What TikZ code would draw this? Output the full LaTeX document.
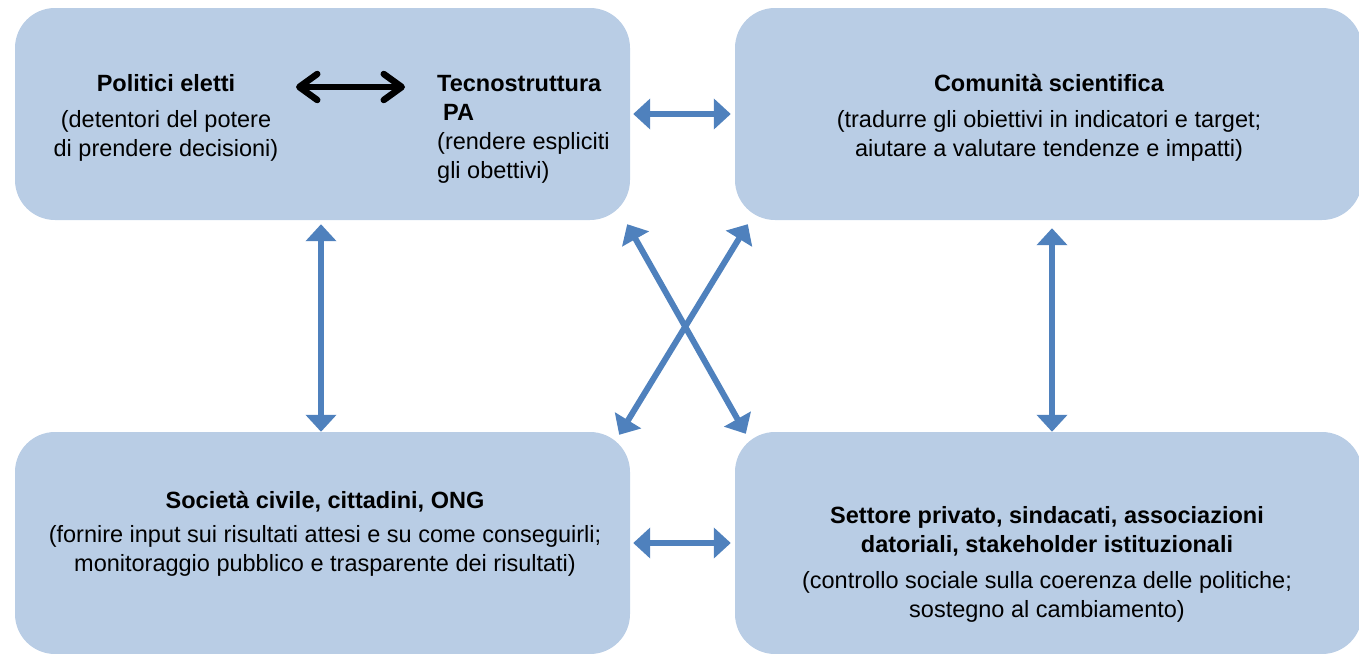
\documentclass[tikz,border=0pt]{standalone}
\usepackage{fontspec}
\setmainfont{Liberation Sans}
\usetikzlibrary{arrows.meta}
\definecolor{boxfill}{HTML}{B9CDE5}
\definecolor{arrowblue}{HTML}{4F81BD}
\begin{document}
\begin{tikzpicture}[x=1pt,y=-1pt,
  box/.style={fill=boxfill, rounded corners=40pt, inner sep=0pt},
  txt/.style={font=\fontsize{23.5}{29}\selectfont, inner sep=0pt, anchor=north},
  blu/.style={draw=arrowblue, line width=6pt, arrows={Triangle[length=17pt,width=30pt]-Triangle[length=17pt,width=30pt]}},
  blk/.style={draw=black, line width=6.5pt, line cap=round, arrows={Straight Barb[length=18pt,width=26pt,round]-Straight Barb[length=18pt,width=26pt,round]}}]
\useasboundingbox (0,0) rectangle (1359,653);
% boxes
\node[box, minimum width=615pt, minimum height=212pt] (TL) at (322.5,114) {};
\node[box, minimum width=627pt, minimum height=212pt] (TR) at (1048.5,114) {};
\node[box, minimum width=615pt, minimum height=222pt] (BL) at (322.5,543) {};
\node[box, minimum width=627pt, minimum height=222pt] (BR) at (1048.5,543) {};
% texts
\node[txt, align=center] (pol) at (166,70.7) {\textbf{Politici eletti}\strut\\[7pt](detentori del potere\strut\\di prendere decisioni)\strut};
\node[txt, align=left, anchor=north west] (tec) at (437,70.7) {\textbf{Tecnostruttura}\strut\\\hspace*{6pt}\textbf{PA}\strut\\(rendere espliciti\strut\\gli obettivi)\strut};
\node[txt, align=center] (com) at (1049,70.7) {\textbf{Comunità scientifica}\strut\\[7pt](tradurre gli obiettivi in indicatori e target;\strut\\aiutare a valutare tendenze e impatti)\strut};
\node[txt, align=center] (soc) at (325,487.7) {\textbf{Società civile, cittadini, ONG}\strut\\[5pt](fornire input sui risultati attesi e su come conseguirli;\strut\\monitoraggio pubblico e trasparente dei risultati)\strut};
\node[txt, align=center] (set) at (1047,502.7) {\textbf{Settore privato, sindacati, associazioni}\strut\\\textbf{datoriali, stakeholder istituzionali}\strut\\[7pt](controllo sociale sulla coerenza delle politiche;\strut\\sostegno al cambiamento)\strut};
% arrows
\coordinate (b1) at (296,87);
\coordinate (b2) at (405,87);
\draw[blk] (b1) -- (b2);
\draw[blu, shorten <=3pt, shorten >=4pt] (TL.east) -- (TR.west);
\draw[blu, shorten <=3pt, shorten >=4pt] (BL.east) -- (BR.west);
\draw[blu, shorten <=4pt] ([xshift=-1.5pt]TL.south) -- ([xshift=-1.5pt]BL.north);
\draw[blu, shorten <=8pt] ([xshift=3.5pt]TR.south) -- ([xshift=3.5pt]BR.north);
\coordinate (xa1) at ([shift={(-3,4)}]TL.south east);
\coordinate (xa2) at ([shift={(11,2)}]BR.north west);
\coordinate (xb1) at ([shift={(13,4)}]TR.south west);
\coordinate (xb2) at ([shift={(-11,3)}]BL.north east);
\draw[blu] (xa1) -- (xa2);
\draw[blu] (xb1) -- (xb2);
\end{tikzpicture}
\end{document}
